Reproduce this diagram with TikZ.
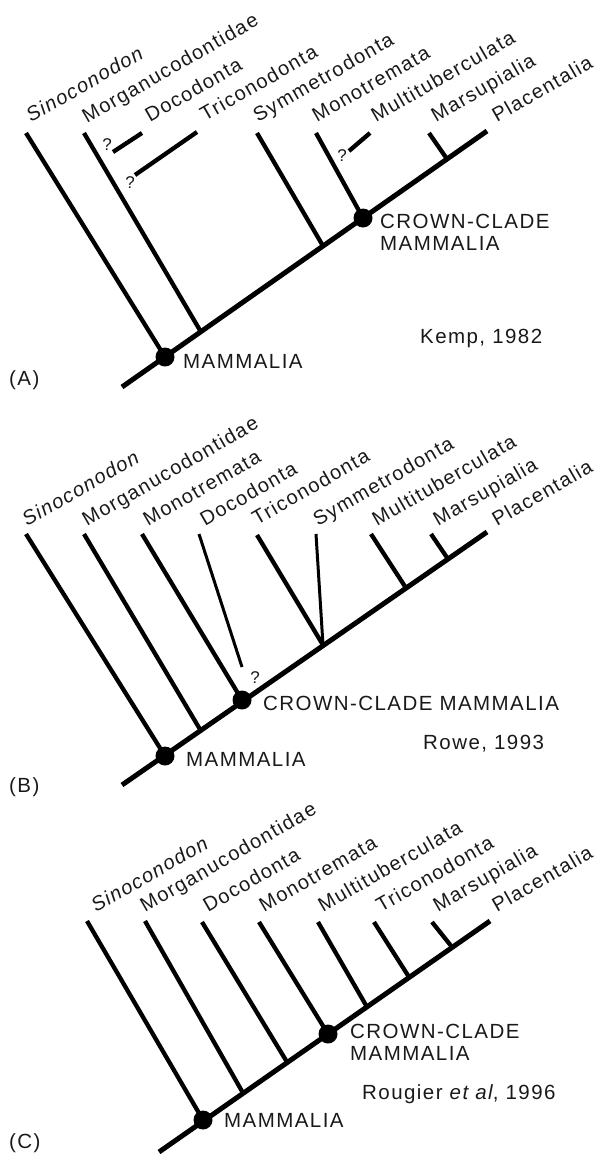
\documentclass[tikz,border=0pt]{standalone}
\usepackage{fontspec}
\setmainfont{Liberation Sans}[LetterSpace=7]
\usepackage{tikz}
\usetikzlibrary{positioning}

\begin{document}
\begin{tikzpicture}[x=1pt, y=-1pt,
    stem/.style={line width=5pt},
    twig/.style={line width=4.3pt},
    thintwig/.style={line width=3pt},
    dot/.style={circle, fill=black, inner sep=0pt, minimum size=19pt},
    taxon/.style={rotate=30, anchor=base west, inner sep=0pt, text=black!90, font=\fontsize{20}{22}\selectfont},
    tag/.style={anchor=base west, inner sep=0pt, text=black!90, font=\fontsize{20.5}{22}\selectfont},
    twoline/.style={anchor=north west, inner sep=0pt, align=left, text=black!90, font=\fontsize{20.5}{22}\selectfont},
    query/.style={inner sep=0pt, text=black!90, font=\fontsize{17}{20}\selectfont}
]
    \useasboundingbox (0,0) rectangle (597,1154);

    % (A) Kemp
    \coordinate (a-root) at (122,387);
    \coordinate (a-tip) at (487,131);
    \node[dot] (a-mam) at (165,357) {};
    \node[dot] (a-crown) at (363,218) {};
    \draw[stem] (a-root) -- (a-tip);

    \coordinate (a-sino) at (26,133);
    \coordinate (a-morg) at (84,133);
    \coordinate (a-morg-j) at (201,332);
    \coordinate (a-doco) at (142,133);
    \coordinate (a-doco-q) at (113,152);
    \coordinate (a-tric) at (197,132);
    \coordinate (a-tric-q) at (135,175);
    \coordinate (a-symm) at (257,133);
    \coordinate (a-symm-j) at (323,246);
    \coordinate (a-mono) at (316,133);
    \coordinate (a-mult) at (370,133);
    \coordinate (a-mult-q) at (349,151);
    \coordinate (a-mars) at (429,133);
    \coordinate (a-mars-j) at (447,159);

    \draw[twig] (a-sino) -- (a-mam.center);
    \draw[twig] (a-morg) -- (a-morg-j);
    \draw[twig] (a-doco-q) -- (a-doco);
    \draw[twig] (a-tric-q) -- (a-tric);
    \draw[twig] (a-symm) -- (a-symm-j);
    \draw[twig] (a-mono) -- (a-crown.center);
    \draw[twig] (a-mult-q) -- (a-mult);
    \draw[twig] (a-mars) -- (a-mars-j);

    \node[query] (a-doco-qm) at (107,145) {?};
    \node[query] (a-tric-qm) at (130,183) {?};
    \node[query] (a-mult-qm) at (342,156) {?};

    \node[taxon] (a-sino-l) at (31,123) {\itshape Sinoconodon};
    \node[taxon] (a-morg-l) at (87,124) {Morganucodontidae};
    \node[taxon] (a-doco-l) at (150,123) {Docodonta};
    \node[taxon] (a-tric-l) at (205,122) {Triconodonta};
    \node[taxon] (a-symm-l) at (258,123) {Symmetrodonta};
    \node[taxon] (a-mono-l) at (317,123) {Monotremata};
    \node[taxon] (a-mult-l) at (376,123) {Multituberculata};
    \node[taxon] (a-mars-l) at (436,123) {Marsupialia};
    \node[taxon] (a-plac-l) at (497,123) {Placentalia};

    \node[tag] (a-mam-l) at (183,368) {MAMMALIA};
    \node[twoline] (a-crown-l) at (380,213.5) {CROWN-CLADE\\MAMMALIA};
    \node[tag] (a-ref) at (420,343) {Kemp, 1982};
    \node[tag] (a-panel) at (9,385) {(A)};

    % (B) Rowe
    \coordinate (b-root) at (122,785);
    \coordinate (b-tip) at (487,532);
    \node[dot] (b-mam) at (165,756) {};
    \node[dot] (b-crown) at (242,700) {};
    \draw[stem] (b-root) -- (b-tip);

    \coordinate (b-sino) at (26,534);
    \coordinate (b-morg) at (84,534);
    \coordinate (b-morg-j) at (201,731);
    \coordinate (b-mono) at (142,534);
    \coordinate (b-doco) at (199,534);
    \coordinate (b-doco-q) at (242,667);
    \coordinate (b-tric) at (257,535);
    \coordinate (b-tric-j) at (323,645);
    \coordinate (b-symm) at (316,534);
    \coordinate (b-mult) at (371,534);
    \coordinate (b-mult-j) at (406,588);
    \coordinate (b-mars) at (431,534);
    \coordinate (b-mars-j) at (448,559);

    \draw[twig] (b-sino) -- (b-mam.center);
    \draw[twig] (b-morg) -- (b-morg-j);
    \draw[twig] (b-mono) -- (b-crown.center);
    \draw[thintwig] (b-doco) -- (b-doco-q);
    \draw[twig] (b-tric) -- (b-tric-j);
    \draw[thintwig] (b-symm) -- (b-tric-j);
    \draw[twig] (b-mult) -- (b-mult-j);
    \draw[twig] (b-mars) -- (b-mars-j);

    \node[query] (b-doco-qm) at (255,678) {?};

    \node[taxon] (b-sino-l) at (27,527) {\itshape Sinoconodon};
    \node[taxon] (b-morg-l) at (87,527) {Morganucodontidae};
    \node[taxon] (b-mono-l) at (148,527) {Monotremata};
    \node[taxon] (b-doco-l) at (205,527) {Docodonta};
    \node[taxon] (b-tric-l) at (257,526) {Triconodonta};
    \node[taxon] (b-symm-l) at (318,527) {Symmetrodonta};
    \node[taxon] (b-mult-l) at (377,527) {Multituberculata};
    \node[taxon] (b-mars-l) at (438,527) {Marsupialia};
    \node[taxon] (b-plac-l) at (497,527) {Placentalia};

    \node[tag] (b-crown-l) at (263,710) {CROWN-CLADE MAMMALIA};
    \node[tag] (b-ref) at (423,749) {Rowe, 1993};
    \node[tag] (b-mam-l) at (186,766) {MAMMALIA};
    \node[tag] (b-panel) at (9,792) {(B)};

    % (C) Rougier
    \coordinate (c-root) at (159,1152);
    \coordinate (c-tip) at (490,921);
    \node[dot] (c-mam) at (203,1120) {};
    \node[dot] (c-crown) at (328,1034) {};
    \draw[stem] (c-root) -- (c-tip);

    \coordinate (c-sino) at (87,921);
    \coordinate (c-morg) at (145,921);
    \coordinate (c-morg-j) at (243,1093);
    \coordinate (c-doco) at (202,922);
    \coordinate (c-doco-j) at (287,1062);
    \coordinate (c-mono) at (259,922);
    \coordinate (c-mult) at (318,922);
    \coordinate (c-mult-j) at (367,1007);
    \coordinate (c-tric) at (374,922);
    \coordinate (c-tric-j) at (409,977);
    \coordinate (c-mars) at (432,922);
    \coordinate (c-mars-j) at (452,947);

    \draw[twig] (c-sino) -- (c-mam.center);
    \draw[twig] (c-morg) -- (c-morg-j);
    \draw[twig] (c-doco) -- (c-doco-j);
    \draw[twig] (c-mono) -- (c-crown.center);
    \draw[twig] (c-mult) -- (c-mult-j);
    \draw[twig] (c-tric) -- (c-tric-j);
    \draw[twig] (c-mars) -- (c-mars-j);

    \node[taxon] (c-sino-l) at (96,913) {\itshape Sinoconodon};
    \node[taxon] (c-morg-l) at (145,913) {Morganucodontidae};
    \node[taxon] (c-doco-l) at (208,913) {Docodonta};
    \node[taxon] (c-mono-l) at (264,913) {Monotremata};
    \node[taxon] (c-mult-l) at (323,913) {Multituberculata};
    \node[taxon] (c-tric-l) at (381,913) {Triconodonta};
    \node[taxon] (c-mars-l) at (438,913) {Marsupialia};
    \node[taxon] (c-plac-l) at (497,913) {Placentalia};

    \node[twoline] (c-crown-l) at (350,1023.5) {CROWN-CLADE\\MAMMALIA};
    \node[tag] (c-ref) at (362,1099) {Rougier \textit{et al}, 1996};
    \node[tag] (c-mam-l) at (224,1127) {MAMMALIA};
    \node[tag] (c-panel) at (9,1148) {(C)};
\end{tikzpicture}
\end{document}
